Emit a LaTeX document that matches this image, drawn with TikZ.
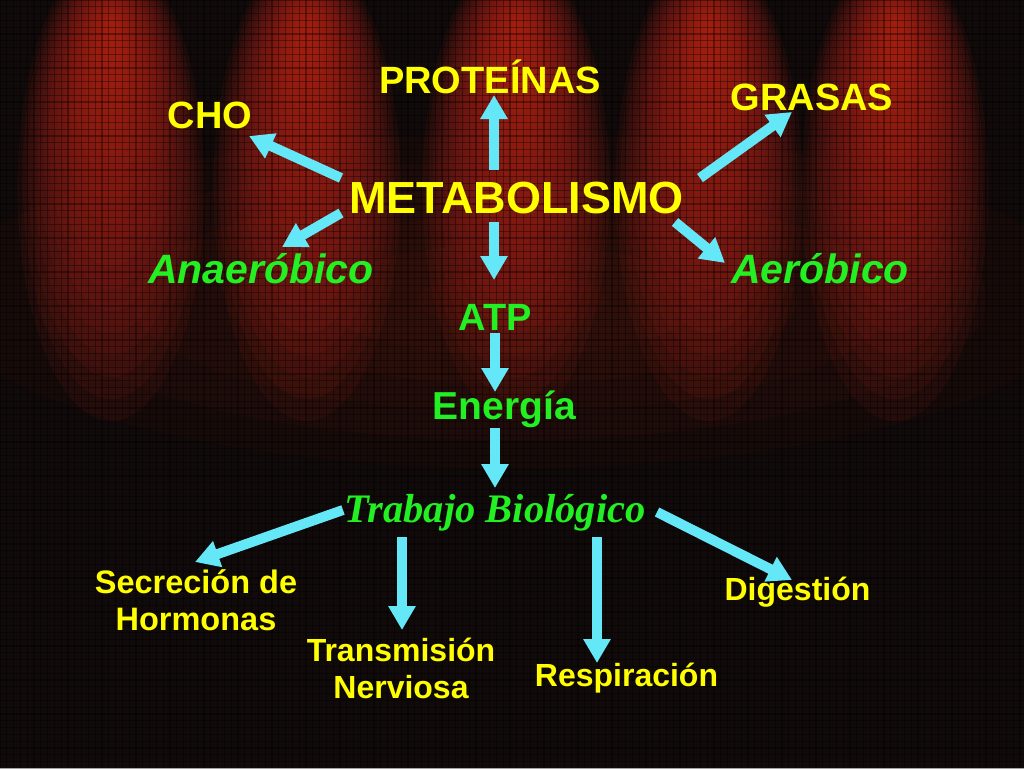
\documentclass[tikz,border=0pt]{standalone}
\usepackage{fontspec}
\usepackage{graphicx}
\setmainfont{Liberation Sans}
\newfontfamily\serifit{Liberation Serif}
\usetikzlibrary{arrows.meta,calc}
\definecolor{bg}{RGB}{16,10,10}
\definecolor{bred}{RGB}{220,44,30}
\definecolor{yel}{RGB}{255,255,0}
\definecolor{grn}{RGB}{34,240,34}
\definecolor{cy}{RGB}{100,232,248}
\newcommand\myfs[1]{\fontsize{#1}{37}\selectfont\bfseries}
\begin{document}
\begin{tikzpicture}[x=1pt,y=-1pt,
  lab/.style={inner sep=0pt, anchor=base},
  arr/.style={draw=cy, line width=10pt, -{Triangle[width=26pt,length=24pt,fill=cy]}}]
\fill[bg] (0,0) rectangle (1024,768);
\useasboundingbox (0,0) rectangle (1024,768);
\begin{scope}
\clip (0,0) rectangle (1024,768);
\foreach \k in {1,...,6} {
  \fill[bred, opacity=0.035] (512,300) ellipse [x radius={95*\k pt}, y radius={28*\k pt}];
}
\foreach \cx in {111,307,516,709,895} {
  \foreach \k in {1,...,18} {
    \fill[bred, opacity=0.07] (\cx,{25+9*\k}) ellipse [x radius={5.2*\k pt}, y radius={13*\k pt}];
  }
}
\foreach \i in {0,...,151} {
  \draw[black, opacity=0.35, line width=1.2pt] (\i*6.8,0) -- (\i*6.8,768);
}
\foreach \j in {0,...,113} {
  \draw[black, opacity=0.35, line width=1.2pt] (0,\j*6.8) -- (1024,\j*6.8);
}
\end{scope}

% nodes
\node[lab, text=yel, font=\myfs{38}] (prot) at (490,93) {PROTEÍNAS};
\node[lab, text=yel, font=\myfs{38}] (cho) at (210,128) {CHO};
\node[lab, text=yel, font=\myfs{38}] (gras) at (812,110) {GRASAS};
\node[lab, text=yel, font=\myfs{45}] (meta) at (516.5,213) {METABOLISMO};
\node[lab, text=grn, font=\myfs{41}\itshape] (anae) at (261,283) {Anaeróbico};
\node[lab, text=grn, font=\myfs{41}\itshape] (aero) at (820,283) {Aeróbico};
\node[lab, text=grn, font=\myfs{38}] (atp) at (495,330) {ATP};
\node[lab, text=grn, font=\myfs{39}] (ener) at (504.5,419) {Energía};
\node[lab, text=grn, font={\serifit\bfseries\itshape\fontsize{40.5}{46}\selectfont}] (trab) at (495,522) {Trabajo Biológico};
\node[lab, text=yel, align=center, font=\myfs{32.5}] (secr) at (196,630) {Secreción de\\Hormonas};
\node[lab, text=yel, align=center, font=\myfs{32}] (trans) at (401,698) {Transmisión\\Nerviosa};
\node[lab, text=yel, font=\myfs{32}] (resp) at (626.5,686) {Respiración};
\node[lab, text=yel, font=\myfs{32}] (dig) at (797.5,600) {Digestión};

% connectors
\draw[arr] ($(meta.base)+(-175.5,-35)$) -- ($(cho.base)+(39,8)$);
\draw[arr] ($(meta.base)+(-22.5,-43)$) -- ($(prot.base)+(4,2)$);
\draw[arr] ($(meta.base)+(183.5,-35)$) -- ($(gras.base)+(-20,2)$);
\draw[arr] ($(meta.base)+(-175.5,0)$) -- ($(anae.base)+(21,-36)$);
\draw[arr] ($(meta.base)+(-22.5,9)$) -- ($(atp.base)+(-1,-50)$);
\draw[arr] ($(meta.base)+(158.5,9)$) -- ($(aero.base)+(-95,-20)$);
\draw[arr] ($(atp.base)+(0,3)$) -- ($(ener.base)+(-9.5,-27)$);
\draw[arr] ($(ener.base)+(-9.5,9)$) -- ($(trab.base)+(0,-34)$);
\draw[arr] ($(trab.base)+(-152,-12)$) -- ($(secr.base)+(-1,-68)$);
\draw[arr] ($(trab.base)+(-93,15)$) -- ($(trans.base)+(1,-68)$);
\draw[arr] ($(trab.base)+(102,15)$) -- ($(resp.base)+(-29.5,-23)$);
\draw[arr] ($(trab.base)+(162,-10)$) -- ($(dig.base)+(-5.5,-20)$);
\end{tikzpicture}
\end{document}
